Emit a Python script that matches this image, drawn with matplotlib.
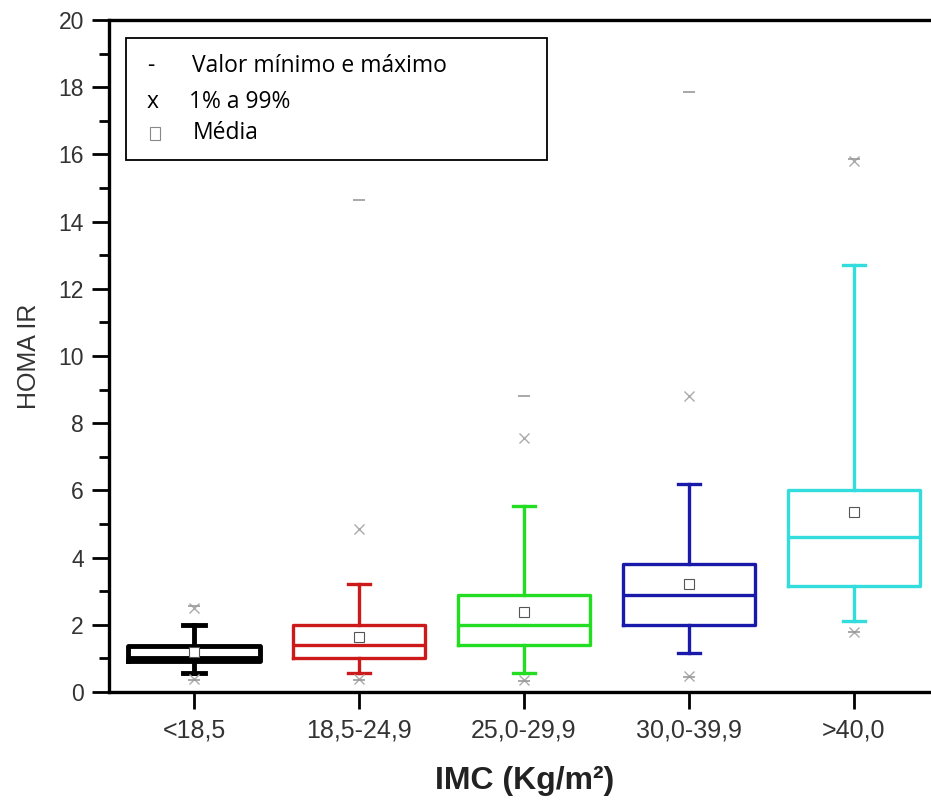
import matplotlib
matplotlib.use("Agg")
import matplotlib.pyplot as plt
from matplotlib.patches import Rectangle
from matplotlib.ticker import MultipleLocator

# ========== Data ==========
categories = ["<18,5", "18,5-24,9", "25,0-29,9", "30,0-39,9", ">40,0"]
q1 = [0.93, 1.0, 1.4, 2.0, 3.15]
median = [1.0, 1.4, 2.0, 2.9, 4.6]
q3 = [1.37, 2.0, 2.9, 3.8, 6.0]
whisker_low = [0.56, 0.57, 0.57, 1.17, 2.1]
whisker_high = [1.98, 3.2, 5.55, 6.2, 12.7]
mean = [1.2, 1.65, 2.38, 3.2, 5.37]
pct_low = [0.38, 0.38, 0.35, 0.48, 1.8]    # 1% marks (x)
pct_high = [2.5, 4.85, 7.55, 8.82, 15.8]   # 99% marks (x)
val_min = [0.35, 0.35, 0.33, 0.45, 1.78]
val_max = [2.55, 14.65, 8.82, 17.85, 15.85]
colors = ["#000000", "#cc1a1a", "#22dd22", "#1a1aaa", "#33dddd"]

# ========== Figure ==========
fig = plt.figure(figsize=(9.31, 8.10), dpi=100)
ax = fig.add_axes([109 / 931, 1 - 692 / 810, 1 - 109 / 931, (692 - 20) / 810])

positions = list(range(1, len(categories) + 1))
for i, pos in enumerate(positions):
    stats = [{"med": median[i], "q1": q1[i], "q3": q3[i],
              "whislo": whisker_low[i], "whishi": whisker_high[i],
              "mean": mean[i], "fliers": []}]
    lw = 3.5 if i == 0 else 2.4
    ax.bxp(stats, positions=[pos], widths=0.8, showmeans=True,
           showfliers=False, manage_ticks=False,
           boxprops=dict(color=colors[i], linewidth=lw),
           medianprops=dict(color=colors[i], linewidth=lw),
           whiskerprops=dict(color=colors[i], linewidth=lw),
           capprops=dict(color=colors[i], linewidth=lw),
           capwidths=0.13,
           meanprops=dict(marker="s", markersize=6.5, markerfacecolor="white",
                          markeredgecolor="#555555", markeredgewidth=0.8))

ax.plot(positions, pct_low, ls="none", marker="x", ms=7, mew=1.0, color="#aaaaaa")
ax.plot(positions, pct_high, ls="none", marker="x", ms=7, mew=1.0, color="#aaaaaa")
ax.plot(positions, val_min, ls="none", marker="_", ms=8, mew=1.2, color="#999999")
ax.plot(positions, val_max, ls="none", marker="_", ms=8, mew=1.2, color="#999999")

ax.set_xlim(1 - (194 - 109) / 165, 1 + (931 - 194) / 165)
ax.set_ylim(0, 20)
ax.set_xticks(positions)
ax.set_xticklabels(categories, fontsize=18)
ax.yaxis.set_major_locator(MultipleLocator(2))
ax.yaxis.set_minor_locator(MultipleLocator(1))

for side in ["left", "bottom", "top"]:
    ax.spines[side].set_linewidth(2.4)
ax.spines["right"].set_visible(False)
ax.tick_params(axis="both", which="major", direction="out", length=12, width=2,
               labelcolor="#333333")
ax.tick_params(axis="x", which="major", pad=7)
ax.tick_params(axis="y", which="major", labelsize=16.5, pad=6)
ax.tick_params(axis="y", which="minor", direction="out", length=7, width=2)
for lab in ax.get_xticklabels() + ax.get_yticklabels():
    lab.set_family("Liberation Sans")

fig.text(29 / 931, 1 - 356 / 810, "HOMA IR", rotation=90, ha="center", va="center",
         fontsize=18, family="Liberation Sans", color="#333333")
fig.text(525 / 931, 1 - 781 / 810, "IMC (Kg/m²)", ha="center", va="center",
         fontsize=23, fontweight="bold", family="Liberation Sans", color="#222222")

# ========== Legend box ==========
fig.add_artist(Rectangle((126 / 931, 1 - 160 / 810), (547 - 126) / 931, (160 - 38) / 810,
                         transform=fig.transFigure, facecolor="white",
                         edgecolor="black", linewidth=1.3))
legend_font = "Open Sans"
rows = [("-", "Valor mínimo e máximo", 66, 192),
        ("x", "1% a 99%", 102, 189),
        ("", "Média", 133, 193)]
for sym, label, y, xt in rows:
    if sym:
        fig.text(147 / 931, 1 - y / 810, sym, ha="left", va="center",
                 fontsize=16.5, family=legend_font)
    fig.text(xt / 931, 1 - y / 810, label, ha="left", va="center",
             fontsize=16.5, family=legend_font)
fig.add_artist(Rectangle((150 / 931, 1 - 140 / 810), 10 / 931, 13 / 810,
                         transform=fig.transFigure, facecolor="white",
                         edgecolor="#888888", linewidth=0.8))

fig.savefig("out.png", dpi=100)
